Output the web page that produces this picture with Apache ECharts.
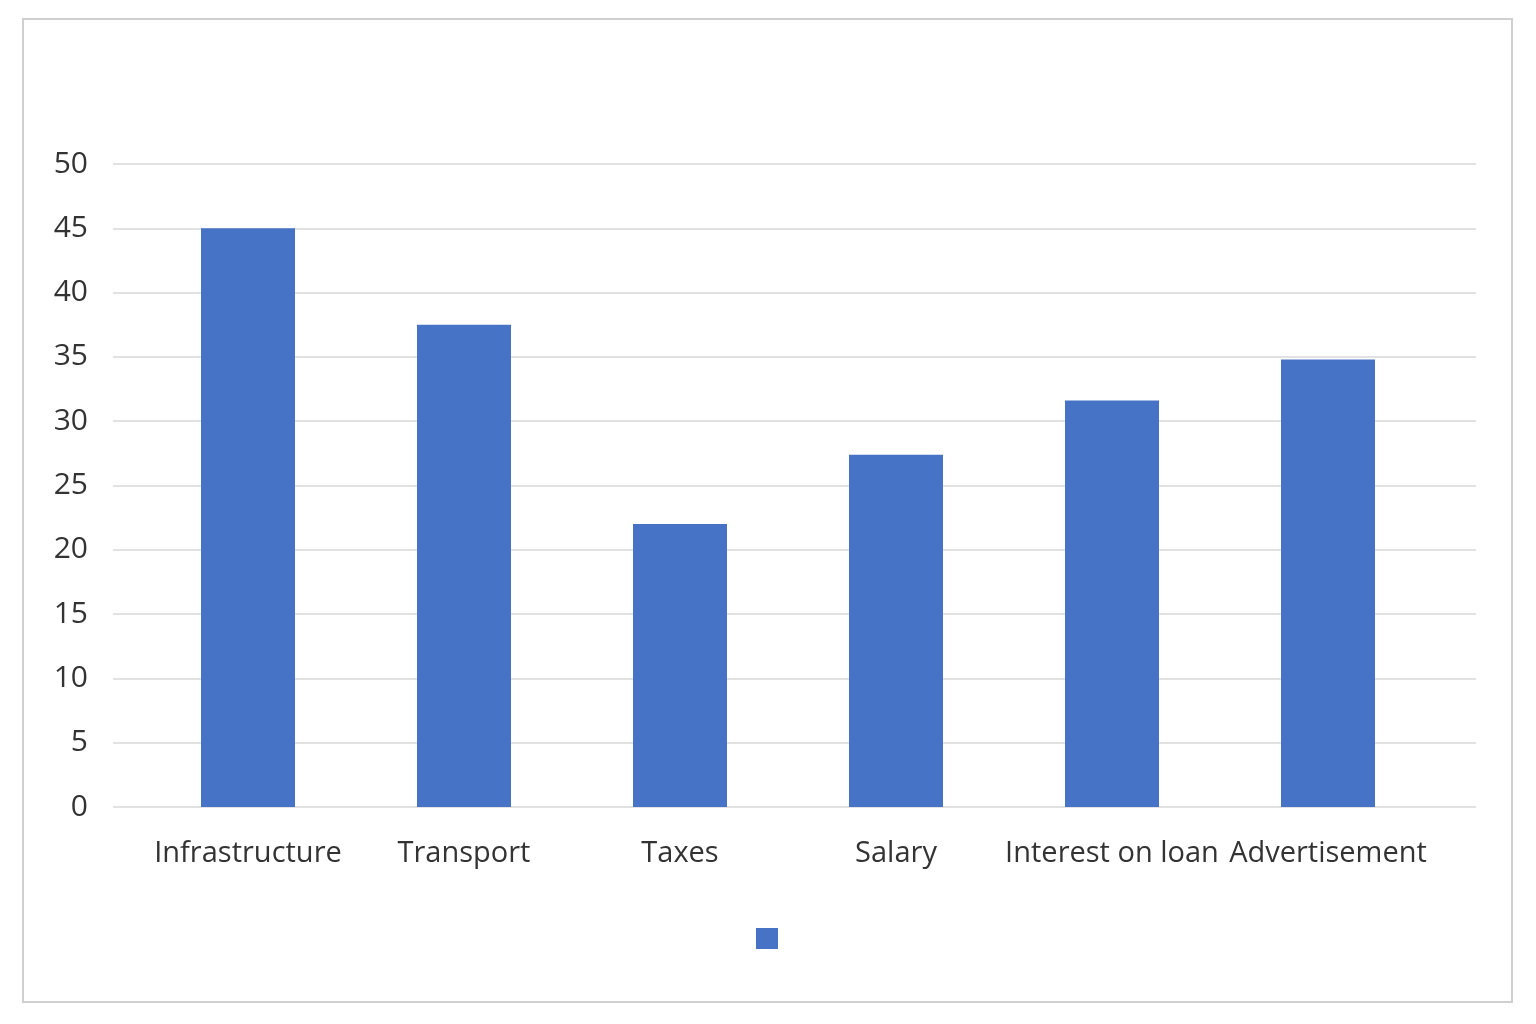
<!DOCTYPE html>
<html>
<head>
<meta charset="utf-8">
<script src="https://cdn.jsdelivr.net/npm/echarts@6/dist/echarts.min.js"></script>
<style>
html,body{margin:0;padding:0;background:#fff;}
#chart{width:1536px;height:1024px;}
</style>
</head>
<body>
<div id="chart"></div>
<script>
const categories = ['Infrastructure', 'Transport', 'Taxes', 'Salary', 'Interest on loan', 'Advertisement'];
const values = [45, 37.5, 22, 27.4, 31.6, 34.8];
const yTicks = [0, 5, 10, 15, 20, 25, 30, 35, 40, 45, 50];

const chart = echarts.init(document.getElementById('chart'));
const font = '"Open Sans", "Noto Sans", sans-serif';
const textColor = '#333333';
chart.setOption({
  animation: false,
  backgroundColor: '#ffffff',
  graphic: [{
    type: 'rect',
    shape: { x: 23, y: 19, width: 1489, height: 983 },
    style: { fill: 'none', stroke: '#d0d0d0', lineWidth: 2 },
    silent: true
  }],
  legend: {
    show: true,
    left: 751,
    top: 923,
    itemWidth: 22,
    itemHeight: 21,
    icon: 'rect',
    formatter: function () { return ''; },
    data: [' ']
  },
  grid: [
    { left: 113, right: 60, top: 164, bottom: 217 },
    { left: 140, right: 100, top: 164, bottom: 217 }
  ],
  xAxis: [
    { gridIndex: 0, type: 'value', show: false, min: 0, max: 1 },
    {
      gridIndex: 1, type: 'category', data: categories,
      axisLine: { show: false }, axisTick: { show: false },
      axisLabel: { color: textColor, fontFamily: font, fontSize: 29, margin: 32, interval: 0 }
    }
  ],
  yAxis: [
    {
      gridIndex: 0, type: 'value', min: 0, max: 50, interval: 5,
      axisLine: { show: false }, axisTick: { show: false },
      splitLine: { lineStyle: { color: '#d9d9d9', width: 1.5 } },
      axisLabel: {
        color: textColor, fontFamily: font, fontSize: 30, margin: 25,
        formatter: function (v) { return yTicks.indexOf(v) >= 0 ? String(v) : ''; }
      }
    },
    {
      gridIndex: 1, type: 'value', min: 0, max: 50, interval: 5, show: false,
      splitLine: { show: false }
    }
  ],
  series: [{
    name: ' ',
    type: 'bar',
    xAxisIndex: 1,
    yAxisIndex: 1,
    data: values,
    barWidth: 94,
    itemStyle: { color: '#4673C5' }
  }]
});
</script>
</body>
</html>
